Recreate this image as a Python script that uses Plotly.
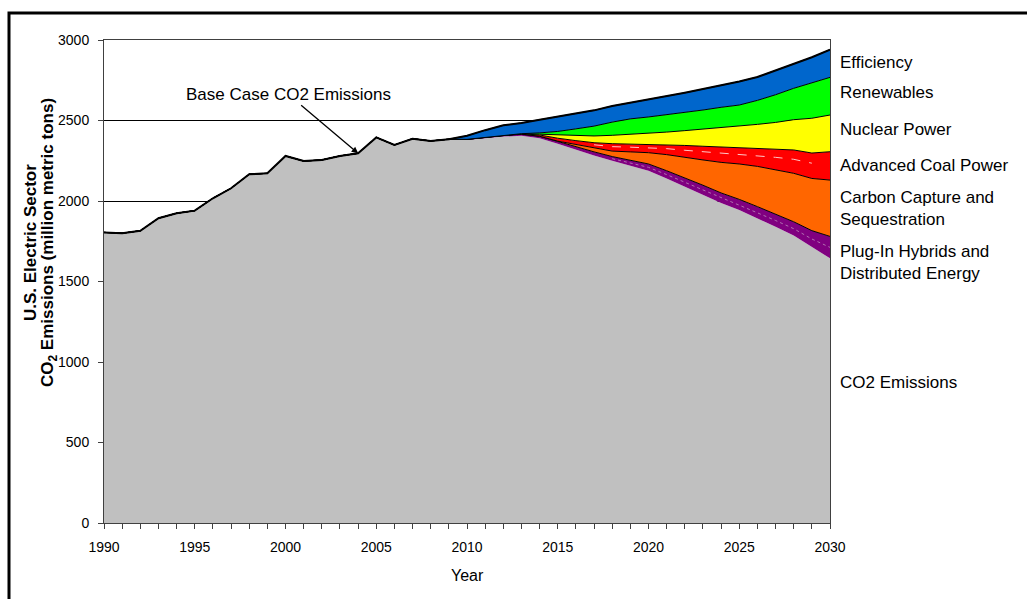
import plotly.graph_objects as go
import numpy as np

years = [1990, 1991, 1992, 1993, 1994, 1995, 1996, 1997, 1998, 1999,
         2000, 2001, 2002, 2003, 2004, 2005, 2006, 2007, 2008, 2009,
         2010, 2011, 2012, 2013, 2014, 2015, 2016, 2017, 2018, 2019,
         2020, 2021, 2022, 2023, 2024, 2025, 2026, 2027, 2028, 2029, 2030]

co2_emissions = [1805, 1800, 1815, 1893, 1924, 1940, 2017, 2079, 2166, 2172,
                 2280, 2248, 2255, 2280, 2296, 2395, 2348, 2387, 2373, 2384,
                 2379, 2390, 2400, 2405, 2390, 2355, 2318, 2283, 2250, 2218,
                 2188, 2140, 2090, 2040, 1988, 1944, 1893, 1840, 1785, 1712, 1644]

plugin_hybrids = [0, 0, 0, 0, 0, 0, 0, 0, 0, 0,
                  0, 0, 0, 0, 0, 0, 0, 0, 0, 0,
                  4, 6, 8, 10, 12, 15, 18, 22, 26, 34,
                  42, 48, 54, 58, 62, 66, 72, 78, 86, 104, 136]

carbon_capture = [0, 0, 0, 0, 0, 0, 0, 0, 0, 0,
                  0, 0, 0, 0, 0, 0, 0, 0, 0, 0,
                  0, 0, 0, 0, 0, 2, 14, 25, 34, 53,
                  70, 100, 126, 157, 190, 220, 250, 277, 301, 324, 350]

advanced_coal = [0, 0, 0, 0, 0, 0, 0, 0, 0, 0,
                 0, 0, 0, 0, 0, 0, 0, 0, 0, 0,
                 0, 0, 0, 3, 8, 18, 25, 32, 46, 49,
                 52, 62, 75, 85, 95, 101, 112, 127, 145, 158, 176]

nuclear = [0, 0, 0, 0, 0, 0, 0, 0, 0, 0,
           0, 0, 0, 0, 0, 0, 0, 0, 0, 0,
           0, 0, 0, 0, 5, 20, 30, 42, 52, 60,
           68, 78, 92, 106, 121, 135, 149, 166, 188, 216, 228]

renewables = [0, 0, 0, 0, 0, 0, 0, 0, 0, 0,
              0, 0, 0, 0, 0, 0, 0, 0, 0, 0,
              0, 0, 0, 0, 8, 22, 43, 61, 82, 96,
              102, 107, 113, 119, 126, 130, 149, 172, 195, 220, 234]

efficiency = [0, 0, 0, 0, 0, 0, 0, 0, 0, 0,
              0, 0, 0, 0, 0, 0, 0, 0, 0, 0,
              22, 44, 62, 67, 82, 91, 97, 98, 100, 100,
              108, 115, 122, 130, 136, 146, 145, 150, 152, 159, 172]

series = [
    ("CO2 Emissions", co2_emissions, "#C0C0C0"),
    ("Plug-In Hybrids and Distributed Energy", plugin_hybrids, "#800080"),
    ("Carbon Capture and Sequestration", carbon_capture, "#FF6600"),
    ("Advanced Coal Power", advanced_coal, "#FF0000"),
    ("Nuclear Power", nuclear, "#FFFF00"),
    ("Renewables", renewables, "#00FF00"),
    ("Efficiency", efficiency, "#0066CC"),
]

right_labels = [
    ("Efficiency", 62),
    ("Renewables", 93),
    ("Nuclear Power", 129),
    ("Advanced Coal Power", 165),
    ("Carbon Capture and<br>Sequestration", 208),
    ("Plug-In Hybrids and<br>Distributed Energy", 262),
    ("CO2 Emissions", 382),
]

W, H = 1027, 599
L, R, T, B = 104, 197, 40, 76
PW, PH = W - L - R, H - T - B


def px(x):
    return (x - L) / PW


def py(y):
    return (H - B - y) / PH


FONT = "Liberation Sans, Arial, sans-serif"

fig = go.Figure()
for i, (name, vals, color) in enumerate(series):
    fig.add_trace(go.Scatter(
        x=years, y=vals, name=name, stackgroup="one", mode="lines",
        fillcolor=color,
        line=dict(color="#000000" if i > 0 else color, width=1 if i > 0 else 0),
        hoverinfo="skip", showlegend=False,
    ))

arr = np.array([s[1] for s in series], dtype=float)
cum = np.cumsum(arr, axis=0)
total = cum[-1]
fig.add_trace(go.Scatter(x=years, y=total, mode="lines",
                         line=dict(color="#000000", width=2),
                         hoverinfo="skip", showlegend=False))

# decorative dashed highlights inside red and purple bands
yr = np.array(years)
m_red = (yr >= 2017) & (yr <= 2029)
fig.add_trace(go.Scatter(x=yr[m_red], y=(cum[2] + 0.6 * arr[3])[m_red], mode="lines",
                         line=dict(color="#FFC8C8", width=1, dash="dash"),
                         hoverinfo="skip", showlegend=False))
m_pur = (yr >= 2018)
fig.add_trace(go.Scatter(x=yr[m_pur], y=(cum[0] + 0.5 * arr[1])[m_pur], mode="lines",
                         line=dict(color="#B070B0", width=1, dash="dot"),
                         hoverinfo="skip", showlegend=False))

annotations = []
for text, ypix in right_labels:
    annotations.append(dict(
        x=px(838), y=py(ypix), xref="paper", yref="paper", text=text,
        showarrow=False, xanchor="left", yanchor="middle", align="left",
        font=dict(family=FONT, size=17, color="#000000"),
    ))

annotations.append(dict(
    x=2004, y=2296, xref="x", yref="y", text="Base Case CO2 Emissions",
    showarrow=True, arrowhead=2, arrowsize=1, arrowwidth=1.3, arrowcolor="#000000",
    ax=-70, ay=-59, font=dict(family=FONT, size=17, color="#000000"),
))

annotations.append(dict(
    x=px(30), y=py(243), xref="paper", yref="paper",
    text="<b>U.S. Electric Sector</b>", textangle=-90, showarrow=False,
    xanchor="center", yanchor="middle",
    font=dict(family=FONT, size=17, color="#000000"),
))
annotations.append(dict(
    x=px(49), y=py(243), xref="paper", yref="paper",
    text="<b>CO<sub>2</sub> Emissions (million metric tons)</b>", textangle=-90,
    showarrow=False, xanchor="center", yanchor="middle",
    font=dict(family=FONT, size=17, color="#000000"),
))
annotations.append(dict(
    x=0.5, y=py(575), xref="paper", yref="paper", text="Year",
    showarrow=False, xanchor="center", yanchor="middle",
    font=dict(family=FONT, size=16, color="#000000"),
))

fig.update_layout(
    width=W, height=H,
    margin=dict(l=L, r=R, t=T, b=B),
    paper_bgcolor="white", plot_bgcolor="white",
    showlegend=False,
    annotations=annotations,
    shapes=[dict(type="rect", xref="paper", yref="paper",
                 x0=px(9), x1=px(1040), y0=py(620), y1=py(13),
                 line=dict(color="#000000", width=3), layer="above")],
)

fig.update_xaxes(
    range=[1990, 2030], tick0=1990, dtick=5, ticks="outside", ticklen=5,
    tickcolor="#404040", showgrid=False, zeroline=False,
    showline=True, linecolor="#404040", linewidth=1, mirror=True,
    minor=dict(dtick=1, ticks="outside", ticklen=5, tickcolor="#404040", showgrid=False),
    tickfont=dict(family=FONT, size=14, color="#000000"),
    ticklabelstandoff=6,
)
fig.update_yaxes(
    range=[0, 3000], tick0=0, dtick=500, ticks="outside", ticklen=5,
    tickcolor="#404040", showgrid=True, gridcolor="#000000", gridwidth=1,
    zeroline=False, showline=True, linecolor="#404040", linewidth=1, mirror=True,
    tickfont=dict(family=FONT, size=14, color="#000000"),
    ticklabelstandoff=6,
)

fig.write_html(
    "out.html",
    config={"displayModeBar": False},
    post_script="document.body.style.margin='0';document.body.style.overflow='hidden';",
)
